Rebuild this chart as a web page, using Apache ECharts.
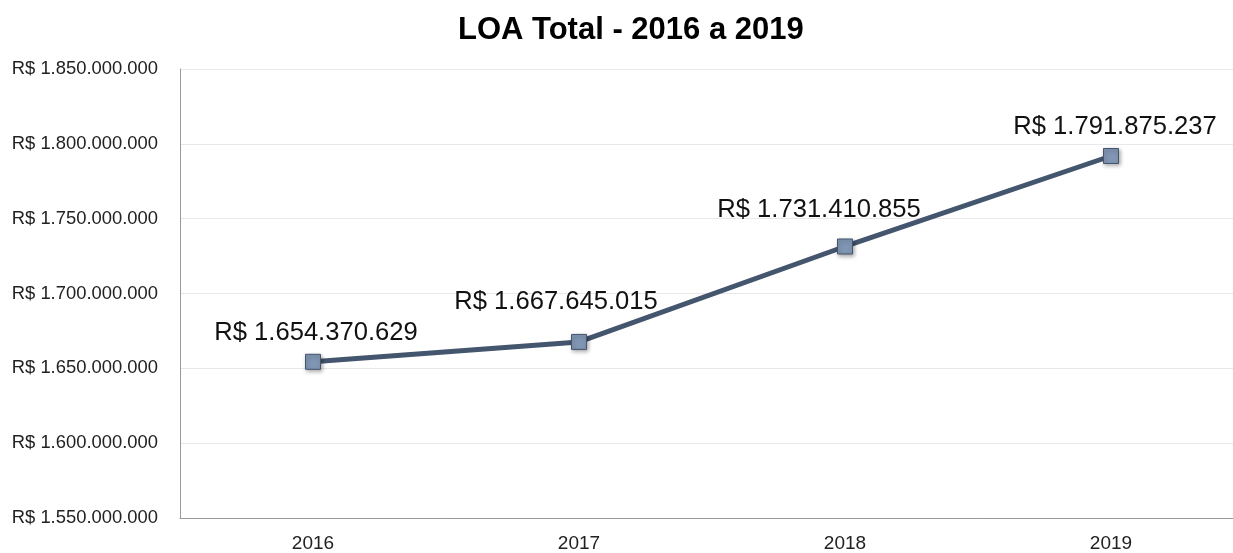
<!DOCTYPE html>
<html>
<head>
<meta charset="utf-8">
<script src="https://cdn.jsdelivr.net/npm/echarts@6/dist/echarts.min.js"></script>
<style>
  html, body { margin: 0; padding: 0; background: #fff; overflow: hidden; }
  /* area do grafico um pouco mais larga que a janela: a ultima faixa da categoria fica cortada como no original */
  #chart { width: 1244px; height: 553px; }
</style>
</head>
<body>
<div id="chart"></div>
<script>
const years = ['2016', '2017', '2018', '2019'];
const loaTotal = [1654370629, 1667645015, 1731410855, 1791875237];
const yMin = 1550000000;
const yMax = 1850000000;
const yStep = 50000000;

// deslocamento manual dos rotulos (como no grafico original)
const labelShift = [[3, 0], [-23, -11], [-26, -8], [4, 0]];

// formata no padrao brasileiro: R$ 1.234.567
function brl(v) {
  return 'R$ ' + String(Math.round(v)).replace(/\B(?=(\d{3})+(?!\d))/g, '.');
}

const chart = echarts.init(document.getElementById('chart'));
chart.setOption({
  animation: false,
  textStyle: { fontFamily: 'Liberation Sans' },
  title: {
    text: 'LOA Total - 2016 a 2019',
    left: 453,
    top: 10,
    textStyle: { fontSize: 31, fontWeight: 'bold', color: '#000', fontFamily: 'Liberation Sans' },
  },
  grid: { left: 180, right: 0, top: 69, bottom: 35 },
  xAxis: {
    type: 'category',
    data: years,
    boundaryGap: true,
    axisLine: { lineStyle: { color: '#999', width: 1 } },
    axisTick: { show: false },
    axisLabel: { color: '#222', fontSize: 19, margin: 16 },
  },
  yAxis: {
    type: 'value',
    min: yMin,
    max: yMax,
    interval: yStep,
    axisLine: { show: true, lineStyle: { color: '#999', width: 1 } },
    axisTick: { show: false },
    axisLabel: { color: '#222', fontSize: 18.4, margin: 22, formatter: brl },
    splitLine: { lineStyle: { color: '#e8e8e8' } },
  },
  series: [
    {
      type: 'line',
      data: loaTotal.map((v, i) => ({ value: v, label: { offset: labelShift[i] } })),
      symbol: 'rect',
      symbolSize: 15,
      lineStyle: { color: '#44556e', width: 5 },
      itemStyle: {
        color: '#8196b4',
        borderColor: '#44556e',
        borderWidth: 1,
        shadowColor: 'rgba(0,0,0,0.35)',
        shadowBlur: 4,
        shadowOffsetX: 1,
        shadowOffsetY: 2,
      },
      label: {
        show: true,
        position: 'top',
        distance: 8,
        fontSize: 25.6,
        color: '#111',
        formatter: (p) => brl(p.value),
      },
    },
  ],
});
</script>
</body>
</html>
